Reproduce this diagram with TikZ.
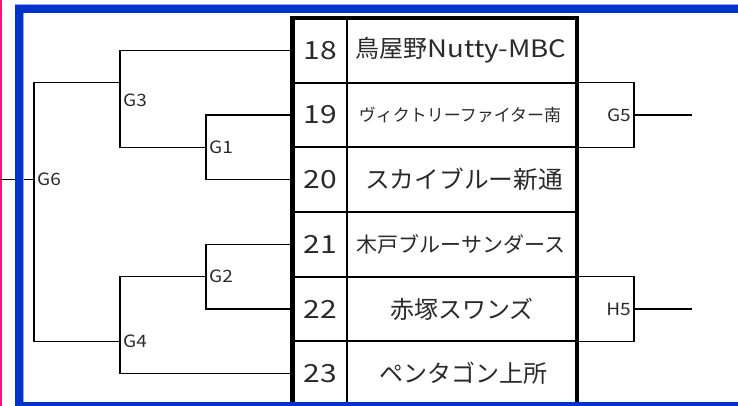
\documentclass[tikz,border=0pt]{standalone}
\usepackage{fontspec}
\setmainfont{Noto Sans CJK JP}
\definecolor{frameblue}{HTML}{0033CC}
\definecolor{framelight}{HTML}{8FA8F0}
\definecolor{pinkline}{HTML}{FF0F77}
\definecolor{labgray}{HTML}{2A2A2A}
\newcommand{\widen}[1]{\scalebox{1.2}[1]{#1}}
\begin{document}
\begin{tikzpicture}[x=1pt,y=-1pt,
  br/.style={line width=1.3pt},
  outer/.style={line width=4.5pt},
  inner/.style={line width=1.8pt},
  numtxt/.style={font=\fontsize{25}{25}\selectfont, text=labgray, inner sep=0pt},
  nametxt/.style={font=\fontsize{24}{24}\selectfont, text=labgray, inner sep=0pt},
  glab/.style={font=\fontsize{17}{17}\selectfont, text=labgray, inner sep=3pt}]
\useasboundingbox (0,0) rectangle (738,406);
\fill[white] (0,0) rectangle (738,406);
\fill[pinkline] (0,0) rectangle (2,406);

% table cells
\node[numtxt] (n18) at (320,50.3) {\widen{18}};
\node[numtxt] (n19) at (320,115.0) {\widen{19}};
\node[numtxt] (n20) at (320,179.7) {\widen{20}};
\node[numtxt] (n21) at (320,244.3) {\widen{21}};
\node[numtxt] (n22) at (320,309.0) {\widen{22}};
\node[numtxt] (n23) at (320,373.7) {\widen{23}};
\node[nametxt] (t18) at (461,50.3) {鳥屋野\scalebox{1.15}[1]{Nutty-MBC}};
\node[nametxt, font=\fontsize{17}{17}\selectfont] (t19) at (460,115.0) {ヴィクトリーファイター南};
\node[nametxt] (t20) at (464,179.7) {\scalebox{1.03}[1]{スカイブルー新通}};
\node[nametxt, font=\fontsize{21}{21}\selectfont] (t21) at (461,244.3) {木戸ブルーサンダース};
\node[nametxt] (t22) at (462,309.0) {赤塚スワンズ};
\node[nametxt] (t23) at (463,373.7) {ペンタゴン上所};

% table grid
\draw[inner] (292,82.7) -- (579,82.7);
\draw[inner] (292,147.3) -- (579,147.3);
\draw[inner] (292,212.0) -- (579,212.0);
\draw[inner] (292,276.7) -- (579,276.7);
\draw[inner] (292,341.3) -- (579,341.3);
\draw[line width=2pt] (347,18) -- (347,406);
\draw[outer] (290.2,18) -- (578.8,18);
\draw[outer] (292.5,16) -- (292.5,406);
\draw[line width=4pt] (576.8,16) -- (576.8,406);

% connection points
\coordinate (a18) at (292,50.3);
\coordinate (a19) at (292,115.0);
\coordinate (a20) at (292,179.7);
\coordinate (a21) at (292,244.3);
\coordinate (a22) at (292,309.0);
\coordinate (a23) at (292,373.7);
\coordinate (g1) at (206,147.3);
\coordinate (g3) at (120,82.7);
\coordinate (g2) at (206,276.7);
\coordinate (g4) at (120,341.3);
\coordinate (g6) at (34,179.7);
\coordinate (g6end) at (0,179.7);
\coordinate (g3lab) at (120,100);
\coordinate (b19t) at (577,82.7);
\coordinate (b19b) at (577,147.3);
\coordinate (g5) at (634,115.0);
\coordinate (g5end) at (692,115.0);
\coordinate (b22t) at (577,276.7);
\coordinate (b22b) at (577,341.3);
\coordinate (h5) at (634,309.0);
\coordinate (h5end) at (692,309.0);

% brackets
\draw[br] (a19) -| (g1) |- (a20);
\draw[br] (a18) -| (g3) |- (g1);
\draw[br] (g3) -| (g6);
\draw[br] (a21) -| (g2) |- (a22);
\draw[br] (g2) -| (g4) |- (a23);
\draw[br] (g4) -| (g6);
\draw[br] (g6) -- (g6end);
\draw[br] (b19t) -| (g5) |- (b19b);
\draw[br] (g5) -- (g5end);
\draw[br] (b22t) -| (h5) |- (b22b);
\draw[br] (h5) -- (h5end);

% labels
\node[glab, anchor=west] (lg1) at (g1) {\scalebox{1.12}[1]{G1}};
\node[glab, anchor=west] (lg2) at (g2) {\scalebox{1.12}[1]{G2}};
\node[glab, anchor=west] (lg3) at (g3lab) {\scalebox{1.12}[1]{G3}};
\node[glab, anchor=west] (lg4) at (g4) {\scalebox{1.12}[1]{G4}};
\node[glab, anchor=west] (lg6) at (g6) {\scalebox{1.12}[1]{G6}};
\node[glab, anchor=east] (lg5) at (g5) {\scalebox{1.12}[1]{G5}};
\node[glab, anchor=east] (lh5) at (h5) {\scalebox{1.12}[1]{H5}};

% blue frame
\fill[frameblue] (15,5) rectangle (738,13);
\fill[frameblue] (15,5) rectangle (23,406);
\fill[frameblue] (15,401.7) rectangle (738,406);
\fill[framelight] (23,13) rectangle (24,401.7);
\fill[framelight] (15,4.5) rectangle (738,5.3);
\end{tikzpicture}
\end{document}
